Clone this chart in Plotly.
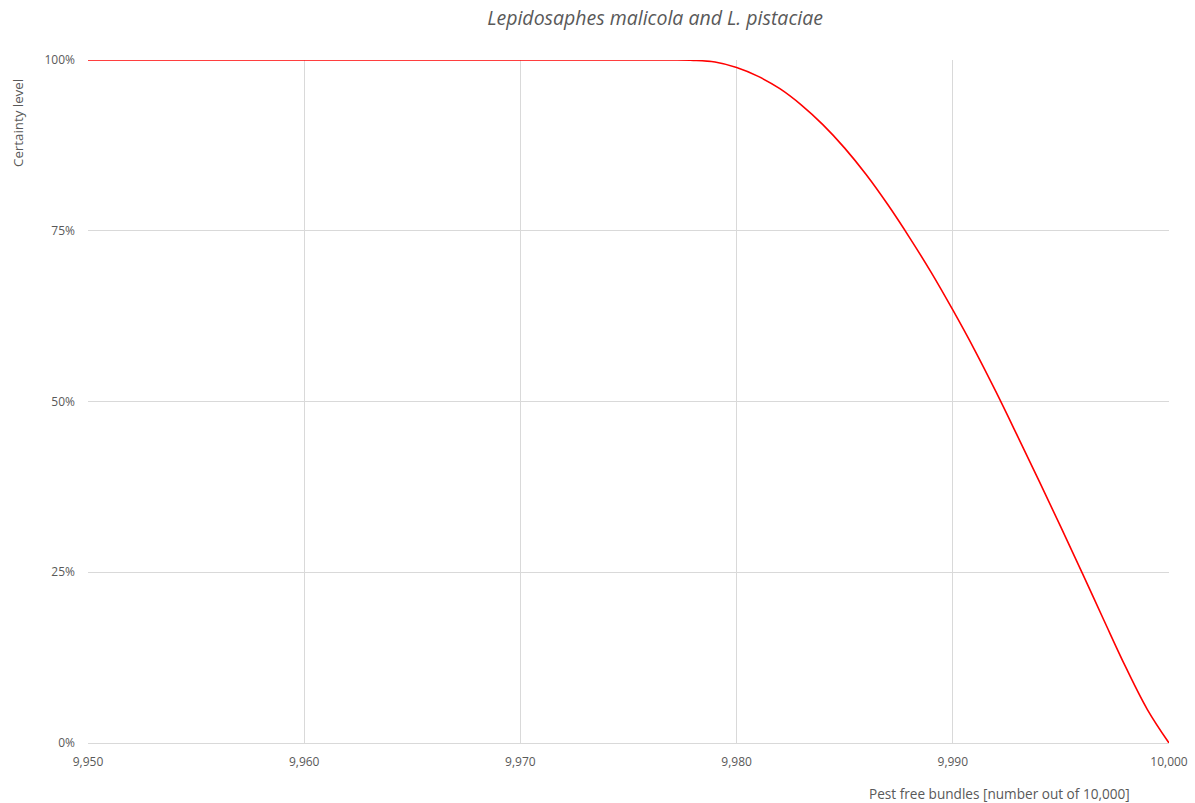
import plotly.graph_objects as go

bundles = [9950, 9960, 9970, 9975, 9977, 9978, 9979, 9980, 9981, 9982, 9983, 9984, 9985,
           9986, 9987, 9988, 9989, 9990, 9991, 9992, 9993, 9994, 9995, 9996,
           9997, 9998, 9999, 10000]
certainty = [1.0, 1.0, 1.0, 1.0, 1.0, 0.9995, 0.997, 0.989, 0.976, 0.958, 0.934, 0.905, 0.871,
             0.832, 0.788, 0.740, 0.689, 0.634, 0.576, 0.514, 0.449, 0.383, 0.316, 0.248,
             0.179, 0.111, 0.049, 0.0]

x_ticks = [9950, 9960, 9970, 9980, 9990, 10000]
x_tick_labels = ["9,950", "9,960", "9,970", "9,980", "9,990", "10,000"]
y_ticks = [0, 0.25, 0.5, 0.75, 1.0]
y_tick_labels = ["0%", "25%", "50%", "75%", "100%"]

font_family = "'Open Sans', Lato, sans-serif"
grey = "#595959"

fig = go.Figure()
fig.add_trace(go.Scatter(
    x=bundles, y=certainty, mode="lines",
    line=dict(color="#ff0000", width=1.6, shape="spline", smoothing=1.0),
    hoverinfo="x+y", showlegend=False,
))

fig.update_layout(
    width=1195, height=803,
    paper_bgcolor="white", plot_bgcolor="white",
    margin=dict(l=88, r=26, t=60, b=60, autoexpand=False),
    title=dict(text="<i>Lepidosaphes malicola and L. pistaciae</i>",
               x=655 / 1195, xanchor="center", xref="container",
               y=1 - 18 / 803, yanchor="middle", yref="container",
               font=dict(family=font_family, size=19.5, color=grey)),
    font=dict(family=font_family, color=grey, size=12),
    xaxis=dict(range=[9950, 10000], tickvals=x_ticks, ticktext=x_tick_labels,
               showgrid=True, gridcolor="#d9d9d9", gridwidth=1,
               showline=True, linecolor="#d9d9d9", linewidth=1,
               zeroline=False, ticks="", ticklabelstandoff=8, automargin=False,
               tickfont=dict(size=12, color=grey)),
    yaxis=dict(range=[0, 1], tickvals=y_ticks, ticktext=y_tick_labels,
               showgrid=True, gridcolor="#d9d9d9", gridwidth=1,
               showline=False, zeroline=False, ticks="", ticklabelstandoff=12,
               automargin=False,
               tickfont=dict(size=12, color=grey)),
    annotations=[
        dict(text="Pest free bundles [number out of 10,000]",
             xref="paper", yref="paper", x=(999 - 88) / 1081, y=-50 / 683,
             xanchor="center", yanchor="middle", showarrow=False,
             font=dict(family=font_family, size=13.6, color=grey)),
        dict(text="Certainty level", textangle=-90,
             xref="paper", yref="paper", x=(18 - 88) / 1081, y=(743 - 123) / 683,
             xanchor="center", yanchor="middle", showarrow=False,
             font=dict(family=font_family, size=13.3, color=grey)),
    ],
)

fig.write_html("out.html", config={"displayModeBar": False},
               post_script="document.body.style.margin='0';document.body.style.overflow='hidden';")
